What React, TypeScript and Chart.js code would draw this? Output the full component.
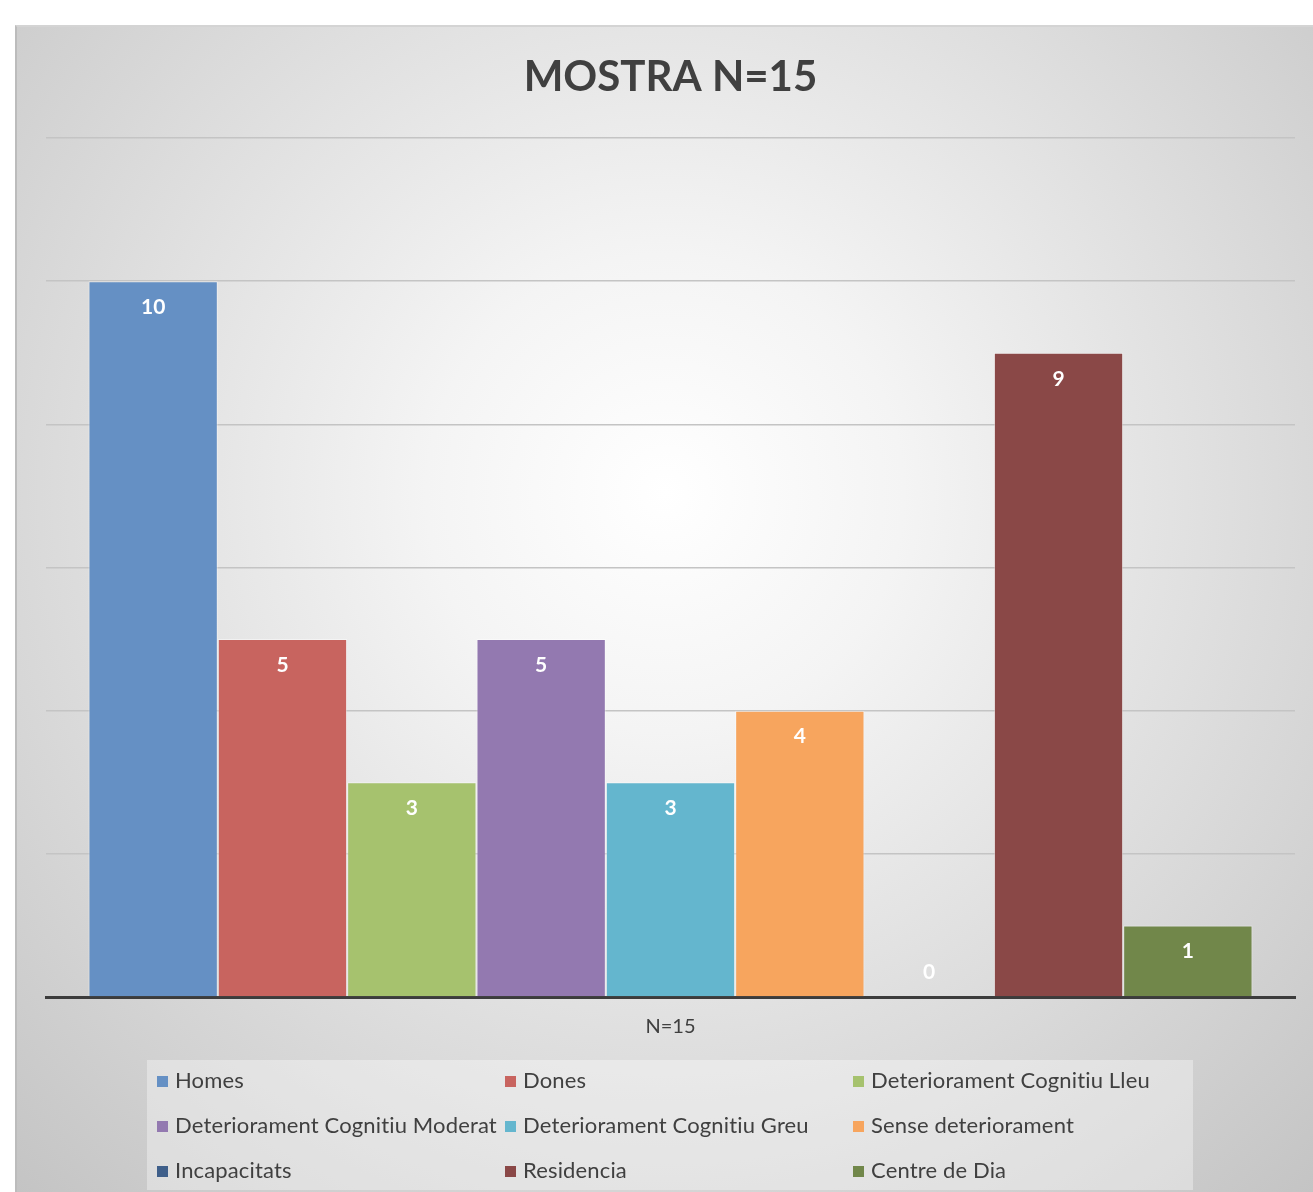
import React, { useEffect, useRef } from "react";
import { Chart, registerables } from "chart.js";

Chart.register(...registerables);

const titleText = "MOSTRA N=15";
const categories = ["N=15"];
const seriesNames = [
  "Homes",
  "Dones",
  "Deteriorament Cognitiu Lleu",
  "Deteriorament Cognitiu Moderat",
  "Deteriorament Cognitiu Greu",
  "Sense deteriorament",
  "Incapacitats",
  "Residencia",
  "Centre de Dia",
];
const seriesValues = [10, 5, 3, 5, 3, 4, 0, 9, 1];
const seriesColors = [
  "#6590c4",
  "#c8645f",
  "#a6c26e",
  "#9379b0",
  "#64b6ce",
  "#f7a55e",
  "#3f5f8a",
  "#8a4847",
  "#71874a",
];
const yMin = 0;
const yMax = 12;
const yStep = 2;

const FONT = "Lato, 'Open Sans', sans-serif";
const TEXT = "#404040";

const labelPlugin = {
  id: "valueLabels",
  afterDatasetsDraw(chart: any) {
    const ctx = chart.ctx;
    ctx.save();
    ctx.font = `bold 21px ${FONT}`;
    ctx.fillStyle = "#ffffff";
    ctx.textAlign = "center";
    ctx.textBaseline = "middle";
    chart.data.datasets.forEach((ds: any, i: number) => {
      const meta = chart.getDatasetMeta(i);
      meta.data.forEach((el: any, j: number) => {
        const v = ds.data[j];
        const y = v === 0 ? el.base - 25 : el.y + 26;
        ctx.fillText(String(v), el.x, y);
      });
    });
    ctx.restore();
  },
};

const titlePlugin = {
  id: "customTitle",
  afterDraw(chart: any) {
    const ctx = chart.ctx;
    const ca = chart.chartArea;
    ctx.save();
    ctx.font = `bold 42px ${FONT}`;
    ctx.fillStyle = TEXT;
    ctx.textAlign = "center";
    ctx.textBaseline = "middle";
    ctx.fillText(titleText, (ca.left + ca.right) / 2, 52);
    ctx.restore();
  },
};

const legendPlugin = {
  id: "gridLegend",
  afterDraw(chart: any) {
    const ctx = chart.ctx;
    const ca = chart.chartArea;
    const boxX = ca.left + 101;
    const boxY = ca.bottom + 63;
    const boxW = 1046;
    const boxH = 130;
    ctx.save();
    ctx.fillStyle = "rgba(255,255,255,0.35)";
    ctx.fillRect(boxX, boxY, boxW, boxH);
    const colX = [boxX + 10, boxX + 358, boxX + 706];
    const rowY = [boxY + 21, boxY + 66, boxY + 111];
    ctx.font = `22px ${FONT}`;
    try {
      (ctx as any).letterSpacing = "0.15px";
    } catch (e) {}
    ctx.textBaseline = "middle";
    ctx.textAlign = "left";
    chart.data.datasets.forEach((ds: any, i: number) => {
      const x = colX[i % 3];
      const y = rowY[Math.floor(i / 3)];
      ctx.fillStyle = ds.backgroundColor;
      ctx.fillRect(x, y - 5, 11, 11);
      ctx.fillStyle = TEXT;
      ctx.fillText(ds.label, x + 18, y);
    });
    ctx.restore();
  },
};

export default function App() {
  const ref = useRef<HTMLCanvasElement | null>(null);
  useEffect(() => {
    if (!ref.current) return;
    const chart = new Chart(ref.current, {
      type: "bar",
      data: {
        labels: categories,
        datasets: seriesNames.map((name, i) => ({
          label: name,
          data: [seriesValues[i]],
          backgroundColor: seriesColors[i],
          borderColor: "rgba(255,255,255,0.45)",
          borderWidth: 1,
          categoryPercentage: 0.932,
          barPercentage: 1,
        })),
      },
      options: {
        responsive: false,
        animation: false,
        layout: { padding: { left: 31, right: 18, top: 113, bottom: 135 } },
        plugins: {
          legend: { display: false },
          title: { display: false },
          tooltip: { enabled: false },
        },
        scales: {
          x: {
            grid: { display: false, drawTicks: false },
            border: { display: true, color: "#3c3c3c", width: 3 },
            ticks: { color: TEXT, font: { size: 20, family: FONT }, padding: 18 },
          },
          y: {
            min: yMin,
            max: yMax,
            ticks: { display: false, stepSize: yStep },
            grid: { color: "#c4c4c4", lineWidth: 1.5, drawTicks: false },
            border: { display: false },
          },
        },
      },
      plugins: [labelPlugin, titlePlugin, legendPlugin],
    });
    return () => chart.destroy();
  }, []);
  return (
    <div
      style={{
        position: "absolute",
        left: 15,
        top: 25,
        width: 1298,
        height: 1167,
        boxSizing: "border-box",
        borderLeft: "2px solid #bcbcbc",
        borderTop: "2px solid #d4d4d4",
        background:
          "radial-gradient(circle farthest-corner at 50% 40%, #ffffff 0%, #f4f4f4 25%, #c4c4c4 100%)",
      }}
    >
      <canvas ref={ref} width={1298} height={1167} style={{ position: "absolute", left: -2, top: -2 }} />
    </div>
  );
}
